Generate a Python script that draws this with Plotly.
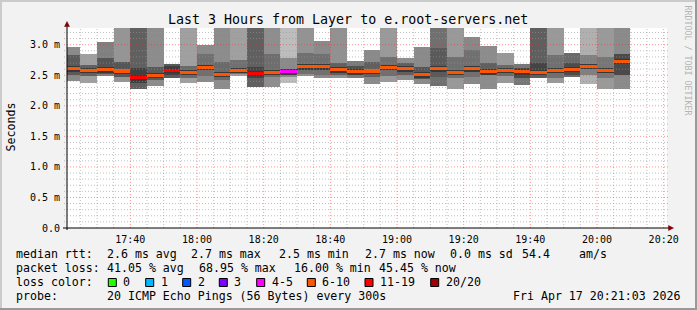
import plotly.graph_objects as go
import pandas as pd

FONT = "DejaVu Sans Mono"

# ---------------- data ----------------
slot_start = pd.date_range("2026-04-17 17:20:00", periods=34, freq="5min")
median_ms = [2.61, 2.58, 2.59, 2.57, 2.46, 2.50, 2.58, 2.55, 2.63, 2.52, 2.58, 2.53,
             2.55, 2.56, 2.64, 2.64, 2.59, 2.56, 2.57, 2.63, 2.61, 2.51, 2.61, 2.55,
             2.61, 2.56, 2.58, 2.56, 2.55, 2.58, 2.60, 2.65, 2.58, 2.73]
smoke_lo = [2.41, 2.37, 2.48, 2.39, 2.27, 2.32, 2.45, 2.37, 2.39, 2.28, 2.49, 2.30,
            2.30, 2.37, 2.49, 2.45, 2.45, 2.45, 2.35, 2.39, 2.42, 2.35, 2.32, 2.28,
            2.36, 2.27, 2.38, 2.34, 2.45, 2.37, 2.47, 2.35, 2.27, 2.28]
smoke_hi = [2.97, 2.84, 3.05, 3.50, 3.50, 3.50, 2.68, 3.50, 3.00, 3.50, 3.50, 3.50,
            3.50, 3.50, 3.50, 3.06, 3.50, 2.74, 2.92, 3.50, 2.78, 2.96, 3.50, 3.50,
            3.12, 2.98, 2.86, 2.69, 3.50, 3.50, 2.87, 3.50, 3.50, 3.50]
inner_lo = [2.50, 2.49, 2.52, 2.47, 2.38, 2.42, 2.50, 2.45, 2.48, 2.42, 2.52, 2.45,
            2.47, 2.47, 2.52, 2.50, 2.50, 2.50, 2.47, 2.48, 2.50, 2.44, 2.47, 2.45,
            2.47, 2.50, 2.49, 2.45, 2.50, 2.45, 2.50, 2.50, 2.45, 2.50]
inner_hi = [2.83, 2.66, 2.78, 2.72, 2.62, 2.64, 2.65, 2.65, 2.84, 2.72, 2.75, 2.64,
            2.84, 2.79, 2.86, 2.85, 2.70, 2.65, 2.72, 2.80, 2.70, 2.64, 2.94, 2.80,
            2.91, 2.70, 2.67, 2.62, 2.70, 2.83, 2.70, 2.83, 2.80, 2.85]
outer_gray = [0x8a, 0xa0, 0x80, 0x95, 0x60, 0x8c, 0x5a, 0xa0, 0x8a, 0x8c, 0xa0, 0x60,
              0x8e, 0xbd, 0x93, 0x8a, 0x91, 0x7a, 0x8a, 0x9a, 0x8e, 0x8a, 0x70, 0x99,
              0x88, 0x8c, 0x99, 0x77, 0x5f, 0x99, 0x6a, 0xb0, 0x9a, 0x8a]
inner_gray = [0x5a, 0x60, 0x55, 0x55, 0x40, 0x5a, 0x40, 0x6a, 0x70, 0x6a, 0x70, 0x44,
              0x6e, 0x8a, 0x70, 0x70, 0x60, 0x50, 0x60, 0x70, 0x60, 0x55, 0x5a, 0x70,
              0x70, 0x60, 0x6a, 0x4a, 0x44, 0x70, 0x4c, 0x80, 0x77, 0x4a]
lost_pings = [8, 9, 7, 9, 13, 10, 12, 9, 8, 9, 8, 14, 8, 5, 7, 8, 9, 7, 8, 8, 7, 9,
              8, 8, 8, 7, 8, 9, 8, 8, 7, 9, 9, 9]

loss_labels = ["0", "1", "2", "3", "4-5", "6-10", "11-19", "20/20"]
loss_upper = [0, 1, 2, 3, 5, 10, 19, 20]
loss_colors = ["#26ff00", "#00b8ff", "#0059ff", "#7e00ff", "#ff00ff", "#ff5500",
               "#ff0000", "#a10000"]

y_ticks = [0.0, 0.5, 1.0, 1.5, 2.0, 2.5, 3.0]
y_ticktext = ["0.0", "0.5 m", "1.0 m", "1.5 m", "2.0 m", "2.5 m", "3.0 m"]

title_text = "Last 3 Hours from Layer to e.root-servers.net"
rtt_parts = ["median rtt:", "2.6 ms avg", "2.7 ms max", "2.5 ms min", "2.7 ms now",
             "0.0 ms sd", "54.4", "am/s"]
loss_parts = ["packet loss:", "41.05 % avg", "68.95 % max", "16.00 % min", "45.45 % now"]
probe_parts = ["probe:", "20 ICMP Echo Pings (56 Bytes) every 300s",
               "Fri Apr 17 20:21:03 2026"]

# ---------------- layout geometry ----------------
W, H = 697, 310
L, R, T, B = 67, 667, 28, 228          # plot area in pixels
PX_PER_MS = 61.1
Y_MAX = (B - T) / PX_PER_MS
X0 = pd.Timestamp("2026-04-17 17:21:00")
X1 = pd.Timestamp("2026-04-17 20:21:00")


def px(x):
    return (x - L) / (R - L)


def py(y):
    return (B - y) / (B - T)


def gray(v):
    return "#%02x%02x%02x" % (v, v, v)


def loss_color(n):
    for up, c in zip(loss_upper, loss_colors):
        if n <= up:
            return c
    return loss_colors[-1]


centers = slot_start + pd.Timedelta(seconds=150)
BW = 300000  # 5 min bar width in ms

fig = go.Figure()
fig.add_trace(go.Bar(x=centers, base=smoke_lo,
                     y=[h - l for h, l in zip(smoke_hi, smoke_lo)],
                     width=BW, marker=dict(color=[gray(g) for g in outer_gray], line_width=0),
                     hoverinfo="skip", showlegend=False))
fig.add_trace(go.Bar(x=centers, base=inner_lo,
                     y=[h - l for h, l in zip(inner_hi, inner_lo)],
                     width=BW, marker=dict(color=[gray(g) for g in inner_gray], line_width=0),
                     hoverinfo="skip", showlegend=False))
CORE_DN, CORE_UP = 0.05, 0.04
fig.add_trace(go.Bar(x=centers, base=[m - CORE_DN for m in median_ms],
                     y=[CORE_DN + CORE_UP] * len(median_ms),
                     width=BW, marker=dict(color="#383838", line_width=0),
                     hoverinfo="skip", showlegend=False))
MED_HALF = 0.025
fig.add_trace(go.Bar(x=centers, base=[m - MED_HALF for m in median_ms],
                     y=[2 * MED_HALF] * len(median_ms),
                     width=BW, marker=dict(color=[loss_color(n) for n in lost_pings], line_width=0),
                     hoverinfo="skip", showlegend=False))

shapes = []
MINOR = "rgba(150,150,150,0.6)"
MAJOR = "rgba(255,40,40,0.5)"
DASH = "1px,2px"
# vertical grid
for t in pd.date_range("2026-04-17 17:25:00", "2026-04-17 20:20:00", freq="5min"):
    major = t.minute % 20 == 0
    shapes.append(dict(type="line", xref="x", yref="paper", x0=t, x1=t, y0=0, y1=py(T - 1),
                       line=dict(color=MAJOR if major else MINOR, width=1, dash=DASH),
                       layer="above"))
# horizontal grid
for i in range(1, 33):
    v = i / 10
    major = i % 5 == 0
    shapes.append(dict(type="line", xref="paper", yref="y", x0=px(64), x1=px(668), y0=v, y1=v,
                       line=dict(color=MAJOR if major else MINOR, width=1, dash=DASH),
                       layer="above"))
# axes lines + arrows
AX = "#000000"
shapes.append(dict(type="line", xref="paper", yref="paper", x0=px(63), x1=px(669),
                   y0=py(228), y1=py(228), line=dict(color=AX, width=1), layer="above"))
shapes.append(dict(type="line", xref="paper", yref="paper", x0=px(67), x1=px(67),
                   y0=py(230), y1=py(25), line=dict(color=AX, width=1), layer="above"))
ARROW = "#7f0000"
shapes.append(dict(type="path", xref="paper", yref="paper",
                   path="M %f %f L %f %f L %f %f Z" % (px(64.5), py(26.5), px(69.5), py(26.5),
                                                      px(67), py(21.5)),
                   fillcolor=ARROW, line=dict(color=ARROW, width=0.5), layer="above"))
shapes.append(dict(type="path", xref="paper", yref="paper",
                   path="M %f %f L %f %f L %f %f Z" % (px(668.5), py(225.5), px(668.5), py(230.5),
                                                      px(673.5), py(228)),
                   fillcolor=ARROW, line=dict(color=ARROW, width=0.5), layer="above"))
# 3D frame
shapes.append(dict(type="rect", xref="paper", yref="paper", x0=px(0), x1=px(W), y0=py(0), y1=py(2),
                   fillcolor="#cbcbcb", line_width=0, layer="below"))
shapes.append(dict(type="rect", xref="paper", yref="paper", x0=px(0), x1=px(2), y0=py(0), y1=py(H),
                   fillcolor="#cbcbcb", line_width=0, layer="below"))
shapes.append(dict(type="rect", xref="paper", yref="paper", x0=px(0), x1=px(W), y0=py(H - 2), y1=py(H),
                   fillcolor="#999999", line_width=0, layer="below"))
shapes.append(dict(type="rect", xref="paper", yref="paper", x0=px(W - 2), x1=px(W), y0=py(0), y1=py(H),
                   fillcolor="#999999", line_width=0, layer="below"))

annotations = []


def text(x, y, s, size=11.6, color="#000000", anchor="left", angle=0):
    annotations.append(dict(xref="paper", yref="paper", x=px(x), y=py(y), text=s,
                            showarrow=False, xanchor=anchor, yanchor="middle",
                            textangle=angle, borderpad=0,
                            font=dict(family=FONT, size=size, color=color)))


text(347.8, 19, title_text, size=13.3, anchor="center")
text(10, 127.5, "Seconds", anchor="center", angle=-90)
text(687.5, 60, "RRDTOOL / TOBI OETIKER", size=8.3, color="#b4b4b4", anchor="center", angle=90)

rtt_x = [16, 107, 190.5, 279, 365, 450, 521.5, 579]
for xx, s in zip(rtt_x, rtt_parts):
    text(xx - 1, 254, s)
loss_x = [16, 107, 199, 294, 379]
for xx, s in zip(loss_x, loss_parts):
    text(xx - 1, 268, s)
text(15, 282, "loss color:")
box_x = [108.3, 145.7, 182.7, 219.3, 256.7, 307.3, 365, 430.7]
for bx, lab, col in zip(box_x, loss_labels, loss_colors):
    shapes.append(dict(type="rect", xref="paper", yref="paper", x0=px(bx), x1=px(bx + 8),
                       y0=py(286.5), y1=py(278.5), fillcolor=col,
                       line=dict(color="#000000", width=1), layer="above"))
    text(bx + 14, 282, lab)
probe_x = [16, 107, 513]
for xx, s in zip(probe_x, probe_parts):
    text(xx - 1, 296, s)

fig.update_layout(
    width=W, height=H,
    margin=dict(l=L, r=W - R, t=T, b=H - B, pad=0),
    paper_bgcolor="#f2f2f2", plot_bgcolor="#ffffff",
    barmode="overlay", bargap=0,
    shapes=shapes, annotations=annotations,
    font=dict(family=FONT, size=10, color="#000000"),
    xaxis=dict(type="date", range=[X0, X1], showgrid=False, zeroline=False, showline=False,
               tickmode="linear", tick0="2026-04-17 17:40:00", dtick=20 * 60 * 1000,
               tickformat="%H:%M", ticks="", ticklabelstandoff=4,
               tickfont=dict(family=FONT, size=10, color="#000000")),
    yaxis=dict(range=[0, Y_MAX], showgrid=False, zeroline=False, showline=False,
               tickmode="array", tickvals=y_ticks, ticktext=y_ticktext, ticks="",
               ticklabelstandoff=6,
               tickfont=dict(family=FONT, size=10, color="#000000")),
)

fig.write_html("out.html")
